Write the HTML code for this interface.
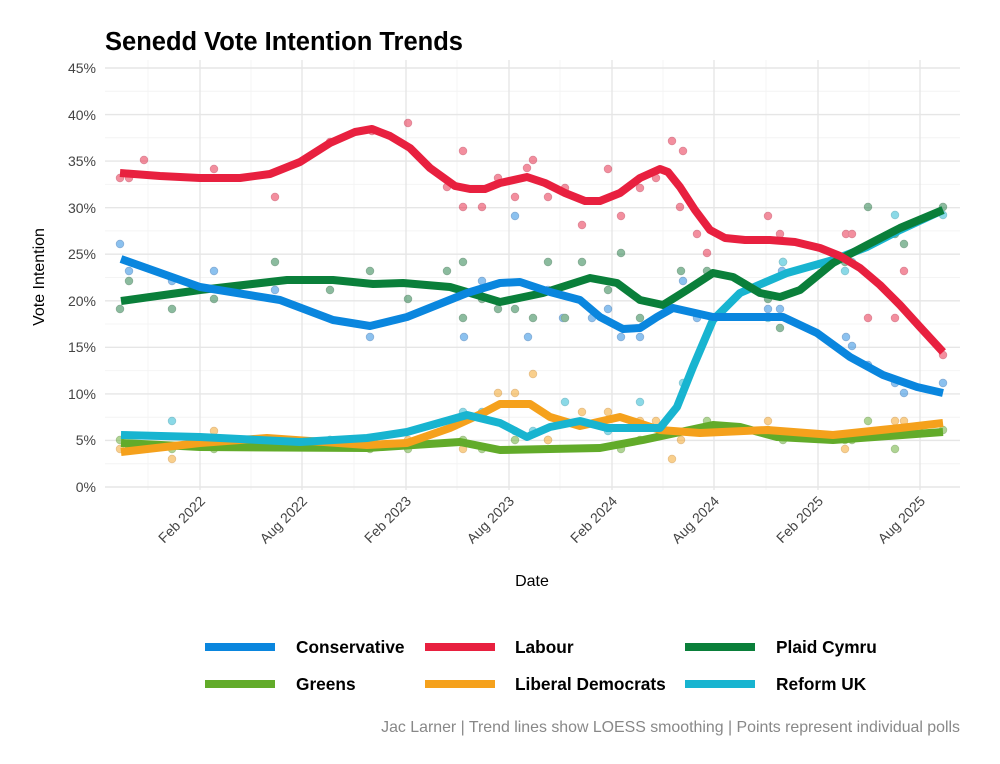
<!DOCTYPE html>
<html><head><meta charset="utf-8"><style>
body{margin:0;background:#fff;}
svg text{font-family:"Liberation Sans",sans-serif;}
</style></head><body>
<svg width="1000" height="759" viewBox="0 0 1000 759" xmlns="http://www.w3.org/2000/svg">
<rect width="1000" height="759" fill="#fff"/>
<text x="105" y="50" font-size="25.5" font-weight="bold" fill="#000">Senedd Vote Intention Trends</text>
<!-- minor grid -->
<g stroke="#f4f4f4" stroke-width="1">
<line x1="105" x2="960" y1="463.7" y2="463.7"/><line x1="105" x2="960" y1="417.2" y2="417.2"/><line x1="105" x2="960" y1="370.6" y2="370.6"/><line x1="105" x2="960" y1="324.0" y2="324.0"/><line x1="105" x2="960" y1="277.5" y2="277.5"/><line x1="105" x2="960" y1="230.9" y2="230.9"/><line x1="105" x2="960" y1="184.4" y2="184.4"/><line x1="105" x2="960" y1="137.8" y2="137.8"/><line x1="105" x2="960" y1="91.3" y2="91.3"/>
<line x1="148" x2="148" y1="60" y2="490"/><line x1="251" x2="251" y1="60" y2="490"/><line x1="354" x2="354" y1="60" y2="490"/><line x1="457" x2="457" y1="60" y2="490"/><line x1="560" x2="560" y1="60" y2="490"/><line x1="663" x2="663" y1="60" y2="490"/><line x1="766" x2="766" y1="60" y2="490"/><line x1="869" x2="869" y1="60" y2="490"/>
</g>
<g stroke="#e6e6e6" stroke-width="1.4">
<line x1="105" x2="960" y1="487" y2="487"/><line x1="105" x2="960" y1="440.4" y2="440.4"/><line x1="105" x2="960" y1="393.9" y2="393.9"/><line x1="105" x2="960" y1="347.3" y2="347.3"/><line x1="105" x2="960" y1="300.8" y2="300.8"/><line x1="105" x2="960" y1="254.2" y2="254.2"/><line x1="105" x2="960" y1="207.7" y2="207.7"/><line x1="105" x2="960" y1="161.1" y2="161.1"/><line x1="105" x2="960" y1="114.6" y2="114.6"/><line x1="105" x2="960" y1="68" y2="68"/>
<line x1="200" x2="200" y1="60" y2="490"/><line x1="302" x2="302" y1="60" y2="490"/><line x1="406" x2="406" y1="60" y2="490"/><line x1="509" x2="509" y1="60" y2="490"/><line x1="612" x2="612" y1="60" y2="490"/><line x1="714" x2="714" y1="60" y2="490"/><line x1="818" x2="818" y1="60" y2="490"/><line x1="920" x2="920" y1="60" y2="490"/>
</g>
<g font-size="14" fill="#444" text-anchor="end">
<text x="96" y="492">0%</text><text x="96" y="445">5%</text><text x="96" y="399">10%</text><text x="96" y="352">15%</text><text x="96" y="306">20%</text><text x="96" y="259">25%</text><text x="96" y="213">30%</text><text x="96" y="166">35%</text><text x="96" y="120">40%</text><text x="96" y="73">45%</text>
</g>
<g font-size="14" fill="#444" text-anchor="end">
<text transform="translate(206,502) rotate(-45)">Feb 2022</text>
<text transform="translate(308,502) rotate(-45)">Aug 2022</text>
<text transform="translate(412,502) rotate(-45)">Feb 2023</text>
<text transform="translate(515,502) rotate(-45)">Aug 2023</text>
<text transform="translate(618,502) rotate(-45)">Feb 2024</text>
<text transform="translate(720,502) rotate(-45)">Aug 2024</text>
<text transform="translate(824,502) rotate(-45)">Feb 2025</text>
<text transform="translate(926,502) rotate(-45)">Aug 2025</text>
</g>
<text x="532" y="586" font-size="16" text-anchor="middle" fill="#000">Date</text>
<text transform="translate(44,277) rotate(-90)" font-size="16" text-anchor="middle" fill="#000">Vote Intention</text>
<!-- points -->
<g opacity="0.5">
<g fill="#e8203f" stroke="#c01030" stroke-width="0.8">
<circle cx="120" cy="178" r="3.8"/><circle cx="129" cy="178" r="3.8"/><circle cx="144" cy="160" r="3.8"/><circle cx="214" cy="169" r="3.8"/><circle cx="275" cy="197" r="3.8"/><circle cx="330" cy="142" r="3.8"/><circle cx="372" cy="131" r="3.8"/><circle cx="408" cy="123" r="3.8"/><circle cx="447" cy="187" r="3.8"/><circle cx="463" cy="151" r="3.8"/><circle cx="463" cy="207" r="3.8"/><circle cx="482" cy="207" r="3.8"/><circle cx="498" cy="178" r="3.8"/><circle cx="515" cy="197" r="3.8"/><circle cx="527" cy="168" r="3.8"/><circle cx="533" cy="160" r="3.8"/><circle cx="548" cy="197" r="3.8"/><circle cx="565" cy="188" r="3.8"/><circle cx="582" cy="225" r="3.8"/><circle cx="608" cy="169" r="3.8"/><circle cx="621" cy="216" r="3.8"/><circle cx="640" cy="188" r="3.8"/><circle cx="656" cy="178" r="3.8"/><circle cx="672" cy="141" r="3.8"/><circle cx="683" cy="151" r="3.8"/><circle cx="680" cy="207" r="3.8"/><circle cx="697" cy="234" r="3.8"/><circle cx="707" cy="253" r="3.8"/><circle cx="768" cy="216" r="3.8"/><circle cx="780" cy="234" r="3.8"/><circle cx="846" cy="234" r="3.8"/><circle cx="852" cy="234" r="3.8"/><circle cx="868" cy="318" r="3.8"/><circle cx="895" cy="318" r="3.8"/><circle cx="904" cy="271" r="3.8"/><circle cx="943" cy="355" r="3.8"/>
</g>
<g fill="#1a85e0" stroke="#1060b0" stroke-width="0.8">
<circle cx="120" cy="244" r="3.8"/><circle cx="129" cy="271" r="3.8"/><circle cx="172" cy="281" r="3.8"/><circle cx="214" cy="271" r="3.8"/><circle cx="275" cy="290" r="3.8"/><circle cx="370" cy="337" r="3.8"/><circle cx="464" cy="337" r="3.8"/><circle cx="482" cy="281" r="3.8"/><circle cx="515" cy="216" r="3.8"/><circle cx="528" cy="337" r="3.8"/><circle cx="548" cy="290" r="3.8"/><circle cx="563" cy="318" r="3.8"/><circle cx="592" cy="318" r="3.8"/><circle cx="608" cy="309" r="3.8"/><circle cx="621" cy="337" r="3.8"/><circle cx="640" cy="337" r="3.8"/><circle cx="683" cy="281" r="3.8"/><circle cx="697" cy="318" r="3.8"/><circle cx="768" cy="309" r="3.8"/><circle cx="780" cy="309" r="3.8"/><circle cx="782" cy="271" r="3.8"/><circle cx="846" cy="337" r="3.8"/><circle cx="852" cy="346" r="3.8"/><circle cx="868" cy="365" r="3.8"/><circle cx="895" cy="383" r="3.8"/><circle cx="904" cy="393" r="3.8"/><circle cx="943" cy="383" r="3.8"/>
</g>
<g fill="#1a7a40" stroke="#0d5a2a" stroke-width="0.8">
<circle cx="120" cy="309" r="3.8"/><circle cx="129" cy="281" r="3.8"/><circle cx="172" cy="309" r="3.8"/><circle cx="214" cy="299" r="3.8"/><circle cx="275" cy="262" r="3.8"/><circle cx="330" cy="290" r="3.8"/><circle cx="370" cy="271" r="3.8"/><circle cx="408" cy="299" r="3.8"/><circle cx="447" cy="271" r="3.8"/><circle cx="463" cy="262" r="3.8"/><circle cx="463" cy="318" r="3.8"/><circle cx="482" cy="299" r="3.8"/><circle cx="498" cy="309" r="3.8"/><circle cx="515" cy="309" r="3.8"/><circle cx="533" cy="318" r="3.8"/><circle cx="548" cy="262" r="3.8"/><circle cx="565" cy="318" r="3.8"/><circle cx="582" cy="262" r="3.8"/><circle cx="608" cy="290" r="3.8"/><circle cx="621" cy="253" r="3.8"/><circle cx="640" cy="318" r="3.8"/><circle cx="681" cy="271" r="3.8"/><circle cx="707" cy="271" r="3.8"/><circle cx="768" cy="299" r="3.8"/><circle cx="780" cy="328" r="3.8"/><circle cx="783" cy="262" r="3.8"/><circle cx="845" cy="262" r="3.8"/><circle cx="868" cy="207" r="3.8"/><circle cx="895" cy="234" r="3.8"/><circle cx="904" cy="244" r="3.8"/><circle cx="943" cy="207" r="3.8"/>
</g>
<g fill="#62ab2a" stroke="#4a8a1a" stroke-width="0.8">
<circle cx="120" cy="440" r="3.8"/><circle cx="129" cy="449" r="3.8"/><circle cx="172" cy="449" r="3.8"/><circle cx="214" cy="449" r="3.8"/><circle cx="275" cy="440" r="3.8"/><circle cx="330" cy="440" r="3.8"/><circle cx="370" cy="449" r="3.8"/><circle cx="408" cy="449" r="3.8"/><circle cx="463" cy="440" r="3.8"/><circle cx="482" cy="449" r="3.8"/><circle cx="515" cy="440" r="3.8"/><circle cx="548" cy="440" r="3.8"/><circle cx="621" cy="449" r="3.8"/><circle cx="640" cy="440" r="3.8"/><circle cx="707" cy="421" r="3.8"/><circle cx="768" cy="430" r="3.8"/><circle cx="783" cy="440" r="3.8"/><circle cx="845" cy="440" r="3.8"/><circle cx="852" cy="440" r="3.8"/><circle cx="868" cy="421" r="3.8"/><circle cx="895" cy="449" r="3.8"/><circle cx="943" cy="430" r="3.8"/>
</g>
<g fill="#f5a11c" stroke="#d08010" stroke-width="0.8">
<circle cx="120" cy="449" r="3.8"/><circle cx="172" cy="459" r="3.8"/><circle cx="214" cy="431" r="3.8"/><circle cx="275" cy="440" r="3.8"/><circle cx="408" cy="440" r="3.8"/><circle cx="463" cy="449" r="3.8"/><circle cx="498" cy="393" r="3.8"/><circle cx="515" cy="393" r="3.8"/><circle cx="533" cy="374" r="3.8"/><circle cx="548" cy="440" r="3.8"/><circle cx="582" cy="412" r="3.8"/><circle cx="608" cy="412" r="3.8"/><circle cx="640" cy="421" r="3.8"/><circle cx="656" cy="421" r="3.8"/><circle cx="672" cy="459" r="3.8"/><circle cx="681" cy="440" r="3.8"/><circle cx="768" cy="421" r="3.8"/><circle cx="845" cy="449" r="3.8"/><circle cx="895" cy="421" r="3.8"/><circle cx="904" cy="421" r="3.8"/>
</g>
<g fill="#18b4d0" stroke="#1090a8" stroke-width="0.8">
<circle cx="172" cy="421" r="3.8"/><circle cx="330" cy="440" r="3.8"/><circle cx="463" cy="412" r="3.8"/><circle cx="482" cy="412" r="3.8"/><circle cx="515" cy="431" r="3.8"/><circle cx="533" cy="431" r="3.8"/><circle cx="565" cy="402" r="3.8"/><circle cx="608" cy="431" r="3.8"/><circle cx="640" cy="402" r="3.8"/><circle cx="683" cy="383" r="3.8"/><circle cx="768" cy="318" r="3.8"/><circle cx="783" cy="262" r="3.8"/><circle cx="845" cy="271" r="3.8"/><circle cx="852" cy="262" r="3.8"/><circle cx="895" cy="215" r="3.8"/><circle cx="943" cy="215" r="3.8"/>
</g>
</g>
<!-- lines -->
<g fill="none" stroke-width="8" stroke-linejoin="round" stroke-linecap="butt">
<polyline stroke="#62ab2a" points="121,443 200,447 367,448 460,442 500,450 550,449 600,448 643,440 713,425 740,427 777,437 833,440 943,432"/>
<polyline stroke="#f5a11c" points="121,452 200,443 267,438 367,445 407,443 450,428 483,413 500,404 520,404 530,404 550,417 580,426 620,417 660,430 700,433 767,430 833,435 900,428 943,423"/>
<polyline stroke="#18b4d0" points="121,435 200,437 300,442 367,438 407,432 467,415 500,423 527,437 550,427 580,421 607,428 660,428 677,407 693,367 713,320 740,293 787,273 833,260 867,247 900,230 943,210"/>
<polyline stroke="#0a7f3a" points="121,301 200,290 287,280 333,280 373,284 403,283 450,287 477,295 500,302 543,293 590,278 617,283 640,300 663,305 687,290 713,273 733,277 760,293 780,297 800,290 833,263 867,245 900,228 943,210"/>
<polyline stroke="#0a86de" points="121,259 200,287 280,300 333,320 370,326 407,317 467,293 500,283 520,282 550,292 580,300 600,317 623,329 640,328 657,317 673,308 713,317 733,317 783,317 817,333 850,357 883,375 917,387 943,393"/>
<polyline stroke="#e8203f" points="120,173 160,176 200,178 240,178 270,174 300,162 330,143 355,132 372,129 390,136 410,148 430,168 455,186 470,189 485,189 500,183 527,177 545,183 565,193 585,201 600,201 620,193 640,178 660,169 668,172 680,187 695,210 710,230 725,238 745,240 770,240 795,242 820,248 840,256 860,268 880,285 900,305 920,327 943,352"/>
</g>
<!-- legend -->
<g stroke-width="8">
<line x1="205" x2="275" y1="647" y2="647" stroke="#0a86de"/>
<line x1="425" x2="495" y1="647" y2="647" stroke="#e8203f"/>
<line x1="685" x2="755" y1="647" y2="647" stroke="#0a7f3a"/>
<line x1="205" x2="275" y1="684" y2="684" stroke="#62ab2a"/>
<line x1="425" x2="495" y1="684" y2="684" stroke="#f5a11c"/>
<line x1="685" x2="755" y1="684" y2="684" stroke="#18b4d0"/>
</g>
<g font-size="17.3" font-weight="bold" fill="#000">
<text x="296" y="653">Conservative</text><text x="515" y="653">Labour</text><text x="776" y="653">Plaid Cymru</text>
<text x="296" y="690">Greens</text><text x="515" y="690">Liberal Democrats</text><text x="776" y="690">Reform UK</text>
</g>
<text x="960" y="732" font-size="15.9" fill="#888" text-anchor="end">Jac Larner | Trend lines show LOESS smoothing | Points represent individual polls</text>
</svg>
</body></html>
